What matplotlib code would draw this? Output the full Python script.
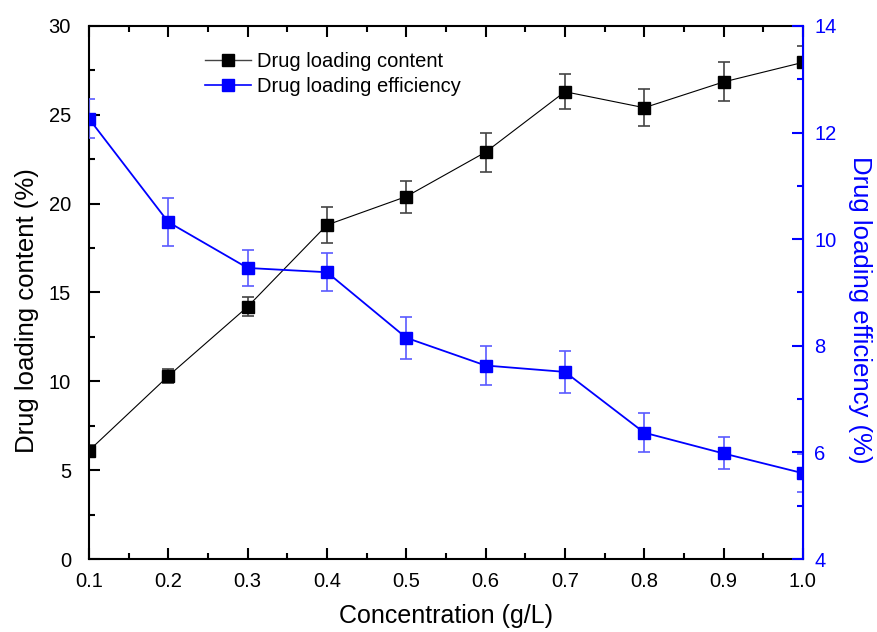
import matplotlib
matplotlib.use("Agg")
import matplotlib.pyplot as plt
from matplotlib.lines import Line2D
from matplotlib.ticker import MultipleLocator

plt.rcParams['font.family'] = ['Liberation Sans', 'DejaVu Sans']

conc = [0.1, 0.2, 0.3, 0.4, 0.5, 0.6, 0.7, 0.8, 0.9, 1.0]
dlc = [6.1, 10.3, 14.2, 18.8, 20.4, 22.9, 26.3, 25.4, 26.85, 27.95]
dlc_err = [0.3, 0.4, 0.55, 1.0, 0.9, 1.1, 1.0, 1.05, 1.1, 0.95]
dle = [12.26, 10.32, 9.46, 9.38, 8.15, 7.63, 7.51, 6.37, 5.98, 5.61]
dle_err = [0.37, 0.45, 0.33, 0.36, 0.39, 0.36, 0.40, 0.36, 0.30, 0.36]
xlabels = ['0.1', '0.2', '0.3', '0.4', '0.5', '0.6', '0.7', '0.8', '0.9', '1.0']

fig = plt.figure(figsize=(8.77, 6.32), dpi=100)
ax = fig.add_axes([0.1015, 0.1155, 0.814, 0.8434])
ax2 = ax.twinx()

# black series
ax.errorbar(conc, dlc, yerr=dlc_err, color='black', ecolor='#444444',
            elinewidth=1.2, capsize=4.5, capthick=1.2, lw=0.8,
            marker='s', ms=8)
# blue series
ax2.errorbar(conc, dle, yerr=dle_err, color='blue', ecolor='#5a5aff',
             elinewidth=1.2, capsize=4.5, capthick=1.2, lw=1.3,
             marker='s', ms=8)

ax.set_xlim(0.1, 1.0)
ax.set_ylim(0, 30)
ax2.set_ylim(4, 14)

ax.xaxis.set_minor_locator(MultipleLocator(0.05))
ax.yaxis.set_major_locator(MultipleLocator(5))
ax.yaxis.set_minor_locator(MultipleLocator(2.5))
ax2.yaxis.set_major_locator(MultipleLocator(2))
ax2.yaxis.set_minor_locator(MultipleLocator(1))
ax.set_xticks(conc)
ax.set_xticklabels(xlabels)

ax.tick_params(which='both', direction='in', top=True, right=False, labelsize=14.5, width=1.5)
ax.tick_params(which='major', length=8)
ax.tick_params(which='minor', length=4)
ax.tick_params(axis='x', pad=9)
ax.tick_params(axis='y', pad=13)
ax2.tick_params(which='both', direction='in', colors='blue', labelsize=14.5, width=1.5, pad=8)
ax2.tick_params(which='major', length=8)
ax2.tick_params(which='minor', length=4)

for s in ['left', 'bottom', 'top']:
    ax.spines[s].set_linewidth(1.5)
ax2.spines['right'].set_color('blue')
ax2.spines['right'].set_linewidth(1.5)
for s in ['left', 'bottom', 'top']:
    ax2.spines[s].set_visible(False)

ax.set_xlabel('Concentration (g/L)', fontsize=18)
ax.set_ylabel('Drug loading content (%)', fontsize=18.5)
ax2.set_ylabel('Drug loading efficiency (%)', fontsize=18.5, color='blue', rotation=270)
ax.xaxis.set_label_coords(0.5, -0.085)
ax.yaxis.set_label_coords(-0.070, 0.466)
ax2.yaxis.set_label_coords(1.097, 0.468)

handles = [Line2D([], [], color='#444444', lw=1.0, marker='s', ms=8, mfc='black', mec='black'),
           Line2D([], [], color='blue', lw=1.2, marker='s', ms=8)]
ax.legend(handles, ['Drug loading content', 'Drug loading efficiency'],
          loc='upper left', bbox_to_anchor=(0.137, 0.985),
          frameon=False, fontsize=14.5, handlelength=2.3, handletextpad=0.3,
          labelspacing=0.3)

fig.savefig('out.png', dpi=100)
